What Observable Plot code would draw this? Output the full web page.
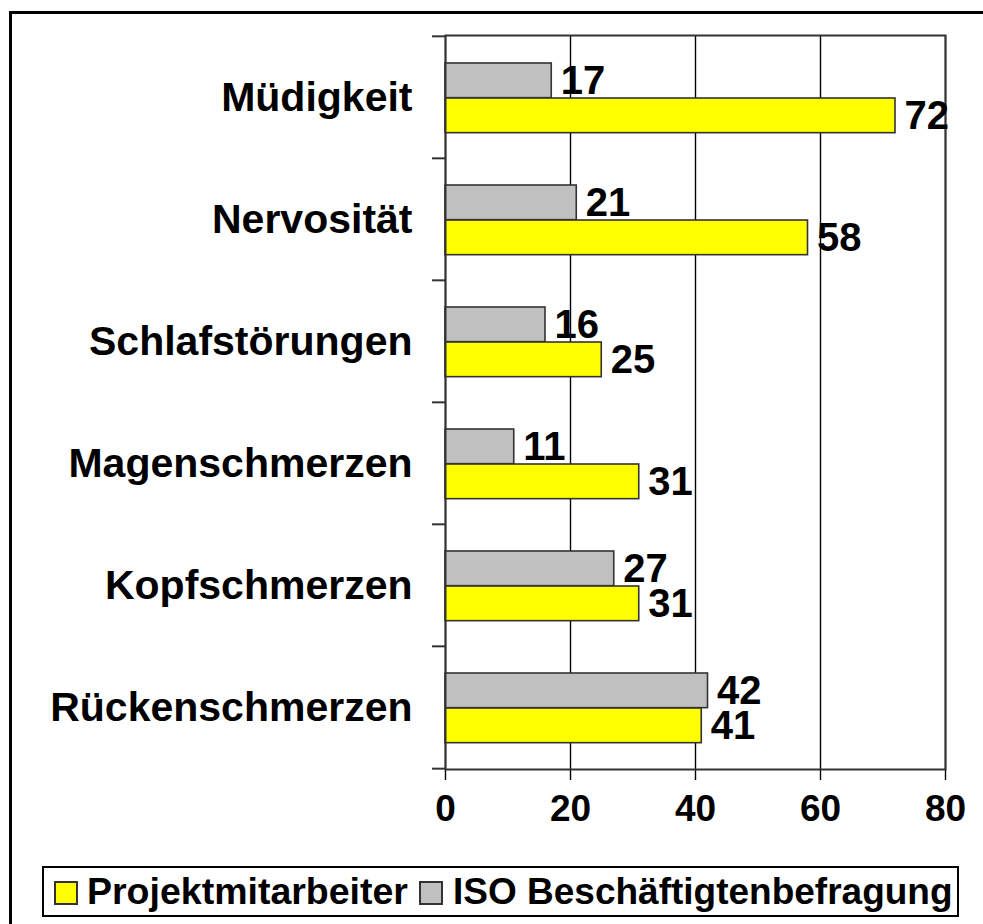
<!DOCTYPE html>
<html><head><meta charset="utf-8">
<script src="https://cdn.jsdelivr.net/npm/d3@7"></script>
<script src="https://cdn.jsdelivr.net/npm/@observablehq/plot@0.6"></script>
<style>
html,body{margin:0;padding:0;background:#fff;overflow:hidden;}
#page{position:relative;width:983px;height:924px;overflow:hidden;font-family:"Liberation Sans",Arial,sans-serif;font-weight:bold;background:#fff;}
#chart{position:absolute;left:0;top:0;}
#outer{position:absolute;left:9px;top:11px;width:1100px;height:1100px;border-left:3px solid #000;border-top:3px solid #000;pointer-events:none;}
#legend{position:absolute;left:42px;top:866px;width:917px;height:51px;box-sizing:border-box;border:2px solid #000;background:#fff;}
.sw{position:absolute;top:13px;width:24px;height:24px;box-sizing:border-box;border:2px solid #333;}
.lab{position:absolute;top:0;height:47px;line-height:47px;white-space:nowrap;color:#000;}
</style>
</head><body>
<div id="page">
  <div id="chart"></div>
  <div id="legend"></div>
  <div id="outer"></div>
</div>
<script>
const categories = ["Müdigkeit","Nervosität","Schlafstörungen","Magenschmerzen","Kopfschmerzen","Rückenschmerzen"];
const projektValues = [72, 58, 25, 31, 31, 41];
const isoValues = [17, 21, 16, 11, 27, 42];
const xTicks = [0, 20, 40, 60, 80];
const seriesNames = ["Projektmitarbeiter", "ISO Beschäftigtenbefragung"];
const seriesColors = ["#ffff00", "#c0c0c0"];

const projData = categories.map((c, i) => ({cat: c, value: projektValues[i]}));
const isoData = categories.map((c, i) => ({cat: c, value: isoValues[i]}));

const W = 983, H = 860, mT = 35, mB = 91, mL = 445, mR = 38;
const bw = (H - mT - mB) / categories.length;
const font = "Liberation Sans, Arial, sans-serif";

const chart = Plot.plot({
  width: W, height: H,
  marginTop: mT, marginBottom: mB, marginLeft: mL, marginRight: mR,
  style: {background: "transparent", fontFamily: font, fontWeight: "bold", color: "#000", overflow: "visible"},
  x: {domain: [0, 80], axis: null},
  y: {domain: categories, padding: 0, axis: null},
  marks: [
    Plot.ruleX(xTicks, {stroke: "#000", strokeWidth: 1.4, insetBottom: -11}),
    Plot.barX(isoData, {x: "value", y: "cat", fill: seriesColors[1], stroke: "#333", strokeWidth: 1.6, insetTop: 27, insetBottom: bw - 62}),
    Plot.barX(projData, {x: "value", y: "cat", fill: seriesColors[0], stroke: "#333", strokeWidth: 1.6, insetTop: 62, insetBottom: bw - 97}),
    Plot.frame({stroke: "#333", strokeWidth: 2}),
    Plot.ruleY(categories, {dy: -bw / 2, insetLeft: -13, insetRight: W - mL - mR, stroke: "#333", strokeWidth: 2}),
    Plot.ruleY([categories[categories.length - 1]], {dy: bw / 2, insetLeft: -13, insetRight: W - mL - mR, stroke: "#333", strokeWidth: 2}),
    Plot.text(categories, {y: d => d, frameAnchor: "left", dx: -33, textAnchor: "end", fontSize: 41, fontWeight: "bold", fill: "#000"}),
    Plot.text(xTicks, {x: d => d, frameAnchor: "bottom", dy: 51, fontSize: 37, fontWeight: "bold", fill: "#000"}),
    Plot.text(isoData, {x: "value", y: "cat", text: d => String(d.value), dx: 9, dy: 44.5 - bw / 2, textAnchor: "start", fontSize: 40, fontWeight: "bold", fill: "#000"}),
    Plot.text(projData, {x: "value", y: "cat", text: d => String(d.value), dx: 9, dy: 79.5 - bw / 2, textAnchor: "start", fontSize: 40, fontWeight: "bold", fill: "#000"})
  ]
});
document.getElementById("chart").appendChild(chart);

// legend: positions relative to the legend box content (box left edge 42 + 2px border)
const legend = document.getElementById("legend");
const swatchLeft = [10, 375];
const labelLeft = [43, 409];
const labelSize = [37.5, 37];
seriesNames.forEach((name, i) => {
  const sw = document.createElement("div");
  sw.className = "sw";
  sw.style.background = seriesColors[i];
  sw.style.left = swatchLeft[i] + "px";
  const lab = document.createElement("span");
  lab.className = "lab";
  lab.style.left = labelLeft[i] + "px";
  lab.style.fontSize = labelSize[i] + "px";
  lab.textContent = name;
  legend.appendChild(sw);
  legend.appendChild(lab);
});
</script>
</body></html>
